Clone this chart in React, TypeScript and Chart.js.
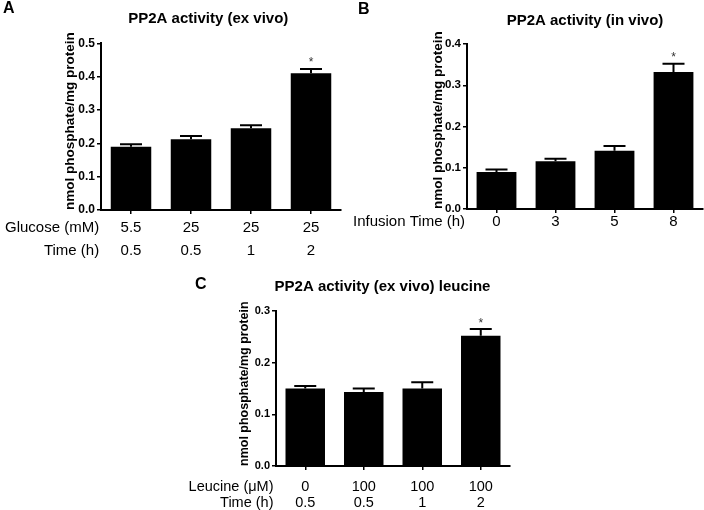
import React, { useEffect, useRef } from "react";
import { Chart, registerables } from "chart.js";

Chart.register(...registerables);

const FONT = 'Arial, "Liberation Sans", Helvetica, sans-serif';
const Y_TITLE = "nmol phosphate/mg protein";

// ---------- Panel A ----------
const A_GLUCOSE = ["5.5", "25", "25", "25"];
const A_TIME = ["0.5", "0.5", "1", "2"];
const A_MEAN = [0.19, 0.212, 0.245, 0.41];
const A_SEM = [0.007, 0.01, 0.009, 0.013];
const A_SIG = [false, false, false, true];
const A_TICKS = [0, 0.1, 0.2, 0.3, 0.4, 0.5];
const A_ROWS = ["Glucose (mM)", "Time (h)"];

// ---------- Panel B ----------
const B_INFUSION = ["0", "3", "5", "8"];
const B_MEAN = [0.09, 0.116, 0.141, 0.332];
const B_SEM = [0.006, 0.006, 0.012, 0.02];
const B_SIG = [false, false, false, true];
const B_TICKS = [0, 0.1, 0.2, 0.3, 0.4];
const B_ROWS = ["Infusion Time (h)"];

// ---------- Panel C ----------
const C_LEUCINE = ["0", "100", "100", "100"];
const C_TIME = ["0.5", "0.5", "1", "2"];
const C_MEAN = [0.15, 0.143, 0.15, 0.252];
const C_SEM = [0.005, 0.007, 0.012, 0.013];
const C_SIG = [false, false, false, true];
const C_TICKS = [0, 0.1, 0.2, 0.3];
const C_ROWS = ["Leucine (\u03BCM)", "Time (h)"];

type PanelCfg = {
  id: string;
  letter: string;
  title: string;
  labels: (string | string[])[];
  means: number[];
  sems: number[];
  sig: boolean[];
  ticks: number[];
  rows: string[];
  padL: number;
  yW: number;
  top: number;
  right: number;
  bottom: number;
  xH: number;
  yTitleSize: number;
  yTitlePad: number;
  yTickSize: number;
  xTickSize: number;
  xLineH: number;
  xPad: number;
  letterX: number;
  letterY: number;
  titleX: number;
  titleY: number;
  rowGap: number;
};

const zip = (a: string[], b: string[]) => a.map((v, i) => [v, b[i]]);

const PANELS: PanelCfg[] = [
  {
    id: "A", letter: "A", title: "PP2A activity (ex vivo)",
    labels: zip(A_GLUCOSE, A_TIME), means: A_MEAN, sems: A_SEM, sig: A_SIG, ticks: A_TICKS, rows: A_ROWS,
    padL: 61, yW: 40, top: 43.3, right: 363, bottom: 240, xH: 60,
    yTitleSize: 13.5, yTitlePad: 1, yTickSize: 12, xTickSize: 15, xLineH: 23 / 15, xPad: 2.7,
    letterX: 3, letterY: 9, titleX: 208.3, titleY: 18.8, rowGap: 1.8,
  },
  {
    id: "B", letter: "B", title: "PP2A activity (in vivo)",
    labels: B_INFUSION, means: B_MEAN, sems: B_SEM, sig: B_SIG, ticks: B_TICKS, rows: B_ROWS,
    padL: 428, yW: 39, top: 44, right: 1, bottom: 251, xH: 50,
    yTitleSize: 13.5, yTitlePad: 2, yTickSize: 11.5, xTickSize: 15, xLineH: 1, xPad: 1,
    letterX: 358, letterY: 10, titleX: 585, titleY: 20.5, rowGap: 2,
  },
  {
    id: "C", letter: "C", title: "PP2A activity (ex vivo) leucine",
    labels: zip(C_LEUCINE, C_TIME), means: C_MEAN, sems: C_SEM, sig: C_SIG, ticks: C_TICKS, rows: C_ROWS,
    padL: 236, yW: 40, top: 311, right: 194, bottom: 0, xH: 44,
    yTitleSize: 12.5, yTitlePad: 1.5, yTickSize: 11, xTickSize: 14.5, xLineH: 16 / 14.5, xPad: 9,
    letterX: 195, letterY: 285, titleX: 382.5, titleY: 287, rowGap: 2.5,
  },
];

const TICK_LEN = 4;

function makeDecor(cfg: PanelCfg) {
  return {
    id: "panelDecor" + cfg.id,
    afterDatasetsDraw(chart: any) {
      const ys = chart.scales.y;
      const meta = chart.getDatasetMeta(0);
      const ctx: CanvasRenderingContext2D = chart.ctx;
      ctx.save();
      ctx.strokeStyle = "#000";
      ctx.fillStyle = "#000";
      ctx.lineWidth = 2;
      cfg.means.forEach((m, i) => {
        const el = meta.data[i];
        if (!el) return;
        const x = el.x;
        const y0 = ys.getPixelForValue(m);
        const y1 = ys.getPixelForValue(m + cfg.sems[i]);
        ctx.beginPath();
        ctx.moveTo(x, y0);
        ctx.lineTo(x, y1);
        ctx.moveTo(x - 11, y1);
        ctx.lineTo(x + 11, y1);
        ctx.stroke();
        if (cfg.sig[i]) {
          ctx.font = `12px ${FONT}`;
          ctx.textAlign = "center";
          ctx.textBaseline = "alphabetic";
          ctx.fillStyle = "#333";
          ctx.fillText("*", x, y1 - 2.5);
          ctx.fillStyle = "#000";
        }
      });
      ctx.restore();
    },
    afterDraw(chart: any) {
      const ctx: CanvasRenderingContext2D = chart.ctx;
      const xs = chart.scales.x;
      const area = chart.chartArea;
      ctx.save();
      ctx.fillStyle = "#000";
      ctx.textBaseline = "middle";
      ctx.font = `bold 16px ${FONT}`;
      ctx.textAlign = "left";
      ctx.fillText(cfg.letter, cfg.letterX, cfg.letterY);
      ctx.font = `bold 15px ${FONT}`;
      ctx.textAlign = "center";
      ctx.fillText(cfg.title, cfg.titleX, cfg.titleY);
      const lh = cfg.xTickSize * cfg.xLineH;
      ctx.font = `${cfg.xTickSize}px ${FONT}`;
      ctx.textAlign = "right";
      cfg.rows.forEach((r, i) => {
        const y = xs.top + TICK_LEN + cfg.xPad + lh * (i + 0.5);
        ctx.fillText(r, area.left - cfg.rowGap, y);
      });
      ctx.restore();
    },
  };
}

function buildConfig(cfg: PanelCfg): any {
  return {
    type: "bar",
    data: {
      labels: cfg.labels,
      datasets: [
        {
          data: cfg.means,
          backgroundColor: "#000",
          borderWidth: 0,
          barPercentage: 0.675,
          categoryPercentage: 1,
        },
      ],
    },
    options: {
      animation: false,
      responsive: false,
      maintainAspectRatio: false,
      events: [],
      layout: {
        padding: { left: cfg.padL, top: cfg.top, right: cfg.right, bottom: cfg.bottom },
      },
      plugins: {
        legend: { display: false },
        tooltip: { enabled: false },
        title: { display: false },
      },
      scales: {
        x: {
          type: "category",
          offset: true,
          grid: {
            display: true,
            drawOnChartArea: false,
            drawTicks: true,
            tickLength: TICK_LEN,
            offset: false,
            color: "#000",
            lineWidth: 1.5,
          },
          border: { display: true, color: "#000", width: 2 },
          ticks: {
            color: "#000",
            font: { family: FONT, size: cfg.xTickSize, lineHeight: cfg.xLineH },
            padding: cfg.xPad,
            maxRotation: 0,
            autoSkip: false,
          },
          afterFit: (s: any) => {
            s.height = cfg.xH;
          },
        },
        y: {
          type: "linear",
          min: cfg.ticks[0],
          max: cfg.ticks[cfg.ticks.length - 1],
          afterBuildTicks: (s: any) => {
            s.ticks = cfg.ticks.map((v) => ({ value: v }));
          },
          grid: {
            display: true,
            drawOnChartArea: false,
            drawTicks: true,
            tickLength: TICK_LEN,
            color: "#000",
            lineWidth: 1.5,
          },
          border: { display: true, color: "#000", width: 2 },
          ticks: {
            color: "#000",
            font: { family: FONT, size: cfg.yTickSize, weight: "bold" },
            padding: 2,
            callback: (v: any) => Number(v).toFixed(1),
          },
          title: {
            display: true,
            text: Y_TITLE,
            align: "start",
            color: "#000",
            font: { family: FONT, size: cfg.yTitleSize, weight: "bold" },
            padding: { top: cfg.yTitlePad, bottom: 0 },
          },
          afterFit: (s: any) => {
            s.width = cfg.yW;
          },
        },
      },
    },
    plugins: [makeDecor(cfg)],
  };
}

function Panel({ cfg }: { cfg: PanelCfg }) {
  const ref = useRef<HTMLCanvasElement>(null);
  useEffect(() => {
    if (!ref.current) return;
    const chart = new Chart(ref.current, buildConfig(cfg));
    return () => chart.destroy();
  }, [cfg]);
  return (
    <canvas
      ref={ref}
      width={704}
      height={510}
      style={{ position: "absolute", left: 0, top: 0, width: 704, height: 510 }}
    />
  );
}

export default function App() {
  return (
    <div
      style={{
        position: "absolute",
        left: 0,
        top: 0,
        width: 704,
        height: 510,
        background: "#fff",
        overflow: "hidden",
      }}
    >
      {PANELS.map((p) => (
        <Panel key={p.id} cfg={p} />
      ))}
    </div>
  );
}
